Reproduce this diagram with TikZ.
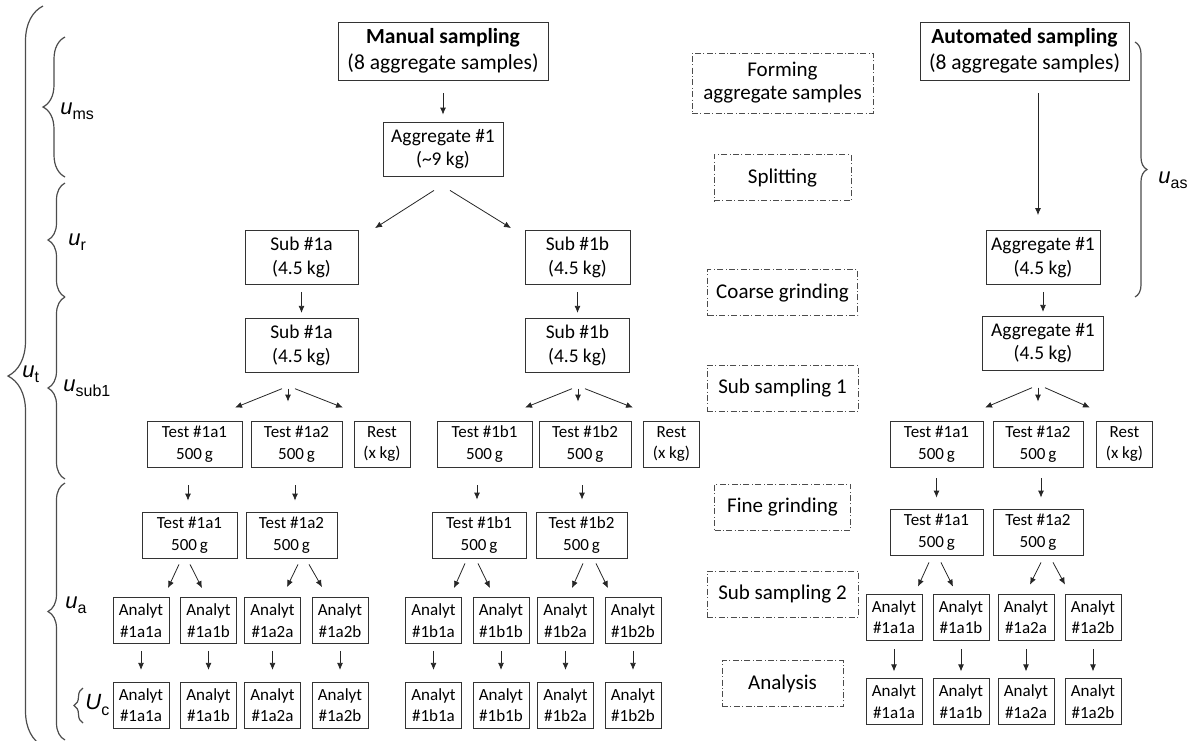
\documentclass[tikz,border=0pt]{standalone}
\usepackage{fontspec}
\setmainfont{Carlito}
\newfontfamily\labelfont{Liberation Sans}
\usetikzlibrary{positioning}
\usetikzlibrary{arrows.meta}
\usetikzlibrary{decorations.pathreplacing}
\tikzset{sample node/.style={rectangle,draw=black!80,align=center,inner sep=0pt,minimum height=27pt,font=\fontsize{9.7}{11.7}\selectfont},}
\tikzset{head node/.style={sample node,minimum height=29pt,font=\fontsize{10.75}{13}\selectfont},}
\tikzset{small node/.style={sample node,minimum height=23pt,font=\fontsize{8.5}{10.8}\selectfont},}
\tikzset{analyt node/.style={small node,minimum width=28pt},}
\tikzset{step node/.style={sample node,draw=black!70,minimum height=23pt,dash pattern=on 3pt off 1.2pt on 0.5pt off 1.2pt,font=\fontsize{10.5}{11.5}\selectfont},}
\tikzset{error brace/.style={draw=black!70,line width=0.6pt,decorate,decoration={brace,amplitude=#1}},}
\tikzset{error label/.style={inner sep=0pt,anchor=west,font=\labelfont\fontsize{11}{12}\selectfont},}
\newcommand{\uvar}[2]{{\itshape #1}\raisebox{-2.5pt}{\fontsize{8}{8}\selectfont #2}}

\begin{document}
\begin{tikzpicture}[x=0.5pt,y=-0.5pt,>={Latex[length=3.5pt,width=3pt]}]
  \useasboundingbox (0,0) rectangle (1195,740);

  % manual sampling
  \node[head node,minimum width=105pt] (ms) at (443,51) {\textbf{Manual sampling}\\(8 aggregate samples)};
  \node[sample node,minimum width=60pt] (agg) at (443,149) {Aggregate \#1\\(\textasciitilde9 kg)};
  \node[sample node,minimum width=56.5pt] (sa) at (301.5,257.5) {Sub \#1a\\(4.5 kg)};
  \node[sample node,minimum width=52.5pt] (sb) at (577.5,257.5) {Sub \#1b\\(4.5 kg)};
  \node[sample node,minimum width=56.5pt] (sa2) [below=16.5pt of sa] {Sub \#1a\\(4.5 kg)};
  \node[sample node,minimum width=52pt] (sb2) [below=16.5pt of sb] {Sub \#1b\\(4.5 kg)};

  \node[small node,minimum width=47.5pt] (ta1) at (194.5,444) {Test \#1a1\\500\,g};
  \node[small node,minimum width=45.5pt] (ta2) at (296.5,444) {Test \#1a2\\500\,g};
  \node[analyt node] (ra) at (382,444) {Rest\\(x kg)};
  \node[small node,minimum width=47.5pt] (tb1) at (484.5,444) {Test \#1b1\\500\,g};
  \node[small node,minimum width=46pt] (tb2) at (585,444) {Test \#1b2\\500\,g};
  \node[analyt node] (rb) at (671.5,444) {Rest\\(x kg)};

  \node[small node,minimum width=47.5pt] (fa1) at (189.5,535) {Test \#1a1\\500\,g};
  \node[small node,minimum width=45.5pt] (fa2) at (291.5,535) {Test \#1a2\\500\,g};
  \node[small node,minimum width=47pt] (fb1) at (479,535) {Test \#1b1\\500\,g};
  \node[small node,minimum width=45.5pt] (fb2) at (581.5,535) {Test \#1b2\\500\,g};

  \node[analyt node] (aa1a) at (141,620.5) {Analyt\\\#1a1a};
  \node[analyt node] (aa1b) at (208.5,620.5) {Analyt\\\#1a1b};
  \node[analyt node] (aa2a) at (272.5,620.5) {Analyt\\\#1a2a};
  \node[analyt node] (aa2b) at (340,620.5) {Analyt\\\#1a2b};
  \node[analyt node] (ab1a) at (433.5,620.5) {Analyt\\\#1b1a};
  \node[analyt node] (ab1b) at (501,620.5) {Analyt\\\#1b1b};
  \node[analyt node] (ab2a) at (565.5,620.5) {Analyt\\\#1b2a};
  \node[analyt node] (ab2b) at (633,620.5) {Analyt\\\#1b2b};

  \node[analyt node] (ca1a) [below=19pt of aa1a] {Analyt\\\#1a1a};
  \node[analyt node] (ca1b) [below=19pt of aa1b] {Analyt\\\#1a1b};
  \node[analyt node] (ca2a) [below=19pt of aa2a] {Analyt\\\#1a2a};
  \node[analyt node] (ca2b) [below=19pt of aa2b] {Analyt\\\#1a2b};
  \node[analyt node] (cb1a) [below=19pt of ab1a] {Analyt\\\#1b1a};
  \node[analyt node] (cb1b) [below=19pt of ab1b] {Analyt\\\#1b1b};
  \node[analyt node] (cb2a) [below=19pt of ab2a] {Analyt\\\#1b2a};
  \node[analyt node] (cb2b) [below=19pt of ab2b] {Analyt\\\#1b2b};

  % automated sampling
  \node[head node,minimum width=104.5pt] (as) at (1024.5,51) {\textbf{Automated sampling}\\(8 aggregate samples)};
  \node[sample node,minimum width=57pt] (ag1) at (1043,257.5) {Aggregate \#1\\(4.5 kg)};
  \node[sample node,minimum width=60.5pt] (ag2) [below=15.5pt of ag1] {Aggregate \#1\\(4.5 kg)};

  \node[small node,minimum width=46.5pt] (tc1) at (936.5,444) {Test \#1a1\\500\,g};
  \node[small node,minimum width=45pt] (tc2) at (1038,444) {Test \#1a2\\500\,g};
  \node[analyt node] (rc) at (1124.5,444) {Rest\\(x kg)};
  \node[small node,minimum width=46.5pt] (fc1) at (936.5,532) {Test \#1a1\\500\,g};
  \node[small node,minimum width=45pt] (fc2) at (1038,532) {Test \#1a2\\500\,g};

  \node[analyt node] (ac1a) at (894,617) {Analyt\\\#1a1a};
  \node[analyt node] (ac1b) at (961,617) {Analyt\\\#1a1b};
  \node[analyt node] (ac2a) at (1026,617) {Analyt\\\#1a2a};
  \node[analyt node] (ac2b) at (1093,617) {Analyt\\\#1a2b};
  \node[analyt node] (cc1a) [below=19pt of ac1a] {Analyt\\\#1a1a};
  \node[analyt node] (cc1b) [below=19pt of ac1b] {Analyt\\\#1a1b};
  \node[analyt node] (cc2a) [below=19pt of ac2a] {Analyt\\\#1a2a};
  \node[analyt node] (cc2b) [below=19pt of ac2b] {Analyt\\\#1a2b};

  % process steps
  \node[step node,minimum width=90.5pt,minimum height=30pt] (form) at (782.5,83) {Forming\\aggregate samples};
  \node[step node,minimum width=68.5pt] (split) [below=20.5pt of form] {Splitting};
  \node[step node,minimum width=75pt] (coarse) [below=34pt of split] {Coarse grinding};
  \node[step node,minimum width=75.5pt] (sub1) [below=24.5pt of coarse] {Sub sampling 1};
  \node[step node,minimum width=68pt] (fine) [below=36pt of sub1] {Fine grinding};
  \node[step node,minimum width=75.5pt] (sub2) [below=20pt of fine] {Sub sampling 2};
  \node[step node,minimum width=60.5pt] (anl) [below=21.5pt of sub2] {Analysis};

  % uncertainty braces
  \draw[error brace=17.5pt] (43,746) -- (43,6);
  \draw[error brace=11pt] (65,177) -- (65,37);
  \draw[error brace=8.5pt] (65,297) -- (65,183);
  \draw[error brace=8.5pt] (65,479) -- (65,297);
  \draw[error brace=8.5pt] (65,740) -- (65,483);
  \draw[error brace=4.5pt] (83,723) -- (83,688);
  \draw[error brace=6pt] (1135,42) -- (1135,297);

  \node[error label] (ut) at (22,374) {\uvar{u}{t}};
  \node[error label] (ums) at (60,111) {\uvar{u}{ms}};
  \node[error label] (ur) at (68,242) {\uvar{u}{r}};
  \node[error label] (usub) at (63,388) {\uvar{u}{sub1}};
  \node[error label] (ua) at (65,605) {\uvar{u}{a}};
  \node[error label] (uc) at (85,705) {\uvar{U}{c}};
  \node[error label] (uas) at (1158,180) {\uvar{u}{as}};

  \path[->,color=black!85]
  ([shift={(0,13)}]ms.south) edge ([shift={(0,-7)}]agg.north)
  ([shift={(-9,14)}]agg.south) edge ([shift={(73.5,-2)}]sa.north)
  ([shift={(7,14)}]agg.south) edge ([shift={(-66.5,-2)}]sb.north)
  ([shift={(0,7)}]sa.south) edge ([shift={(0,-5)}]sa2.north)
  ([shift={(0,7)}]sb.south) edge ([shift={(0,-5)}]sb2.north)
  ([shift={(-19.5,16)}]sa2.south) edge ([shift={(40.5,-13)}]ta1.north)
  ([shift={(-13.5,16)}]sa2.south) edge ([shift={(-8.5,-19)}]ta2.north)
  ([shift={(-6.5,16)}]sa2.south) edge ([shift={(-39,-13)}]ra.north)
  ([shift={(-5.5,16)}]sb2.south) edge ([shift={(40.5,-13)}]tb1.north)
  ([shift={(0.5,16)}]sb2.south) edge ([shift={(-7,-19)}]tb2.north)
  ([shift={(7.5,16)}]sb2.south) edge ([shift={(-38.5,-13)}]rb.north)
  ([shift={(-6.5,18)}]ta1.south) edge ([shift={(-1.5,-11)}]fa1.north)
  ([shift={(-1.5,18)}]ta2.south) edge ([shift={(3.5,-11)}]fa2.north)
  ([shift={(-7.5,18)}]tb1.south) edge ([shift={(-2,-12)}]fb1.north)
  ([shift={(-3,18)}]tb2.south) edge ([shift={(0.5,-12)}]fb2.north)
  ([shift={(-10.5,6)}]fa1.south) edge ([shift={(27,-9)}]aa1a.north)
  ([shift={(0.5,6)}]fa1.south) edge ([shift={(-6.5,-9)}]aa1b.north)
  ([shift={(6.5,6)}]fa2.south) edge ([shift={(14.5,-10)}]aa2a.north)
  ([shift={(17.5,6)}]fa2.south) edge ([shift={(-18,-10)}]aa2b.north)
  ([shift={(-14,5)}]fb1.south) edge ([shift={(20.5,-9)}]ab1a.north)
  ([shift={(-1,5)}]fb1.south) edge ([shift={(-11,-9)}]ab1b.north)
  ([shift={(1.5,5)}]fb2.south) edge ([shift={(6.5,-9)}]ab2a.north)
  ([shift={(14.5,5)}]fb2.south) edge ([shift={(-25,-9)}]ab2b.north)
  ([shift={(0,7)}]aa1a.south) edge ([shift={(0,-12)}]ca1a.north)
  ([shift={(0,7)}]aa1b.south) edge ([shift={(0,-12)}]ca1b.north)
  ([shift={(0,7)}]aa2a.south) edge ([shift={(0,-12)}]ca2a.north)
  ([shift={(0,7)}]aa2b.south) edge ([shift={(0,-12)}]ca2b.north)
  ([shift={(0,7)}]ab1a.south) edge ([shift={(0,-12)}]cb1a.north)
  ([shift={(0,7)}]ab1b.south) edge ([shift={(0,-12)}]cb1b.north)
  ([shift={(0,7)}]ab2a.south) edge ([shift={(0,-12)}]cb2a.north)
  ([shift={(0,7)}]ab2b.south) edge ([shift={(0,-12)}]cb2b.north);

  \path[->,color=black!85]
  ([shift={(13.5,13)}]as.south) edge ([shift={(-5,-15)}]ag1.north)
  ([shift={(0,7)}]ag1.south) edge ([shift={(0,-4)}]ag2.north)
  ([shift={(-11,17)}]ag2.south) edge ([shift={(48.5,-13)}]tc1.north)
  ([shift={(-5,17)}]ag2.south) edge ([shift={(0,-19)}]tc2.north)
  ([shift={(2,17)}]ag2.south) edge ([shift={(-34.5,-13)}]rc.north)
  ([shift={(0,11)}]tc1.south) edge ([shift={(0,-11)}]fc1.north)
  ([shift={(3,11)}]tc2.south) edge ([shift={(3,-11)}]fc2.north)
  ([shift={(-7.5,7)}]fc1.south) edge ([shift={(24,-7)}]ac1a.north)
  ([shift={(4.5,7)}]fc1.south) edge ([shift={(-8,-7)}]ac1b.north)
  ([shift={(3,7)}]fc2.south) edge ([shift={(4,-9)}]ac2a.north)
  ([shift={(15,7)}]fc2.south) edge ([shift={(-28,-9)}]ac2b.north)
  ([shift={(0,9)}]ac1a.south) edge ([shift={(0,-7)}]cc1a.north)
  ([shift={(0,9)}]ac1b.south) edge ([shift={(0,-7)}]cc1b.north)
  ([shift={(0,9)}]ac2a.south) edge ([shift={(0,-7)}]cc2a.north)
  ([shift={(0,9)}]ac2b.south) edge ([shift={(0,-7)}]cc2b.north);
\end{tikzpicture}
\end{document}
